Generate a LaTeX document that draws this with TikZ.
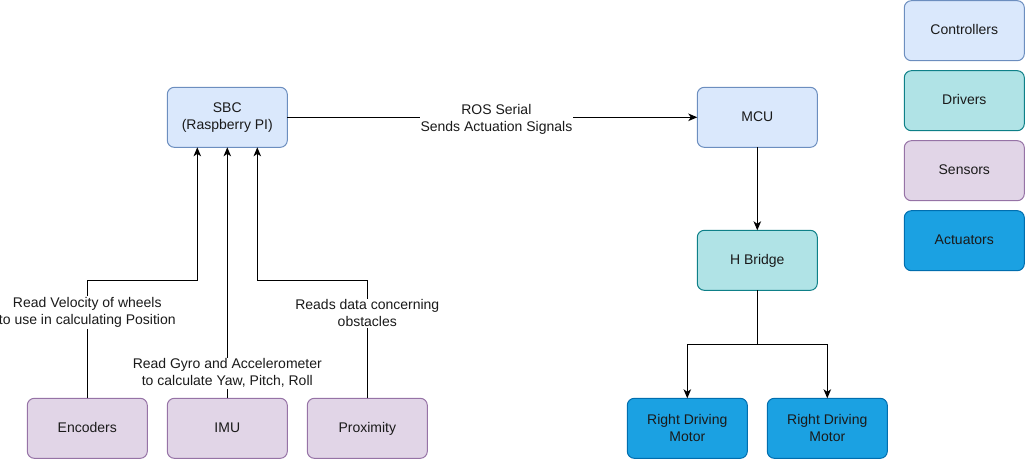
\documentclass[tikz,border=0pt]{standalone}
\usepackage{fontspec}
\setmainfont{Liberation Sans}
\usetikzlibrary{arrows.meta,calc}
\definecolor{ctrlF}{HTML}{DAE8FC}\definecolor{ctrlD}{HTML}{6C8EBF}
\definecolor{drvF}{HTML}{B0E3E6}\definecolor{drvD}{HTML}{0E8088}
\definecolor{senF}{HTML}{E1D5E7}\definecolor{senD}{HTML}{9673A6}
\definecolor{actF}{HTML}{1BA1E2}\definecolor{actD}{HTML}{006EAF}
\definecolor{txt}{HTML}{1A1A1A}
\begin{document}
\begin{tikzpicture}[x=1pt,y=-1pt,
  font=\fontsize{14}{17}\selectfont,
  box/.style={rounded corners=7pt,line width=1pt,minimum width=120pt,minimum height=60pt,align=center,inner sep=2pt,outer sep=0pt,text=txt},
  one/.style={text height=10pt,text depth=2pt},
  ctrl/.style={box,fill=ctrlF,draw=ctrlD},
  drv/.style={box,fill=drvF,draw=drvD},
  sen/.style={box,fill=senF,draw=senD},
  act/.style={box,fill=actF,draw=actD},
  arr/.style={line width=1pt,-{Stealth[length=9pt,width=7.5pt,inset=2.5pt]}},
  lbl/.style={fill=white,align=center,inner sep=1pt,text=txt,yshift=-1.5pt}]
\useasboundingbox (0,0) rectangle (1026,459);
% legend
\node[ctrl,one] (lc) at (964.3,30.7) {Controllers};
\node[drv,one] (ld) at (964.3,100.7) {Drivers};
\node[sen,one] (ls) at (964.3,170.7) {Sensors};
\node[act,one] (la) at (964.3,240.7) {Actuators};
% main
\node[ctrl] (sbc) at (227.3,117.3) {SBC\\(Raspberry PI)};
\node[ctrl,one] (mcu) at (757.3,117.3) {MCU};
\node[drv,one] (hb) at (757.3,260.3) {H Bridge};
\node[sen,one] (enc) at (87.3,428.3) {Encoders};
\node[sen,one] (imu) at (227.3,428.3) {IMU};
\node[sen,one] (prox) at (367.3,428.3) {Proximity};
\node[act] (m1) at (687.3,428.3) {Right Driving\\Motor};
\node[act] (m2) at (827.3,428.3) {Right Driving\\Motor};
\coordinate (sbcA) at ($(sbc.south)+(-30,0)$);
\coordinate (sbcC) at ($(sbc.south)+(30,0)$);
\coordinate (jy) at (0,280.3);
\coordinate (hy) at (0,344.3);
% connectors
\draw[arr] (sbc) -- (mcu) node[lbl,pos=0.51,yshift=-1pt] {ROS Serial\\Sends Actuation Signals};
\draw[arr] (enc.north) |- (jy -| sbcA) node[lbl,pos=0.37] {Read Velocity of wheels\\to use in calculating Position} -- (sbcA);
\draw[arr] (imu.north) -- (sbc.south) node[lbl,pos=0.106] {Read Gyro and Accelerometer\\to calculate Yaw, Pitch, Roll};
\draw[arr] (prox.north) |- (jy -| sbcC) node[lbl,pos=0.366] {Reads data concerning\\obstacles} -- (sbcC);
\draw[arr] (mcu) -- (hb);
\draw[arr] (hb.south) |- (hy -| m1.north) -- (m1.north);
\draw[arr] (hb.south) |- (hy -| m2.north) -- (m2.north);
\end{tikzpicture}
\end{document}
